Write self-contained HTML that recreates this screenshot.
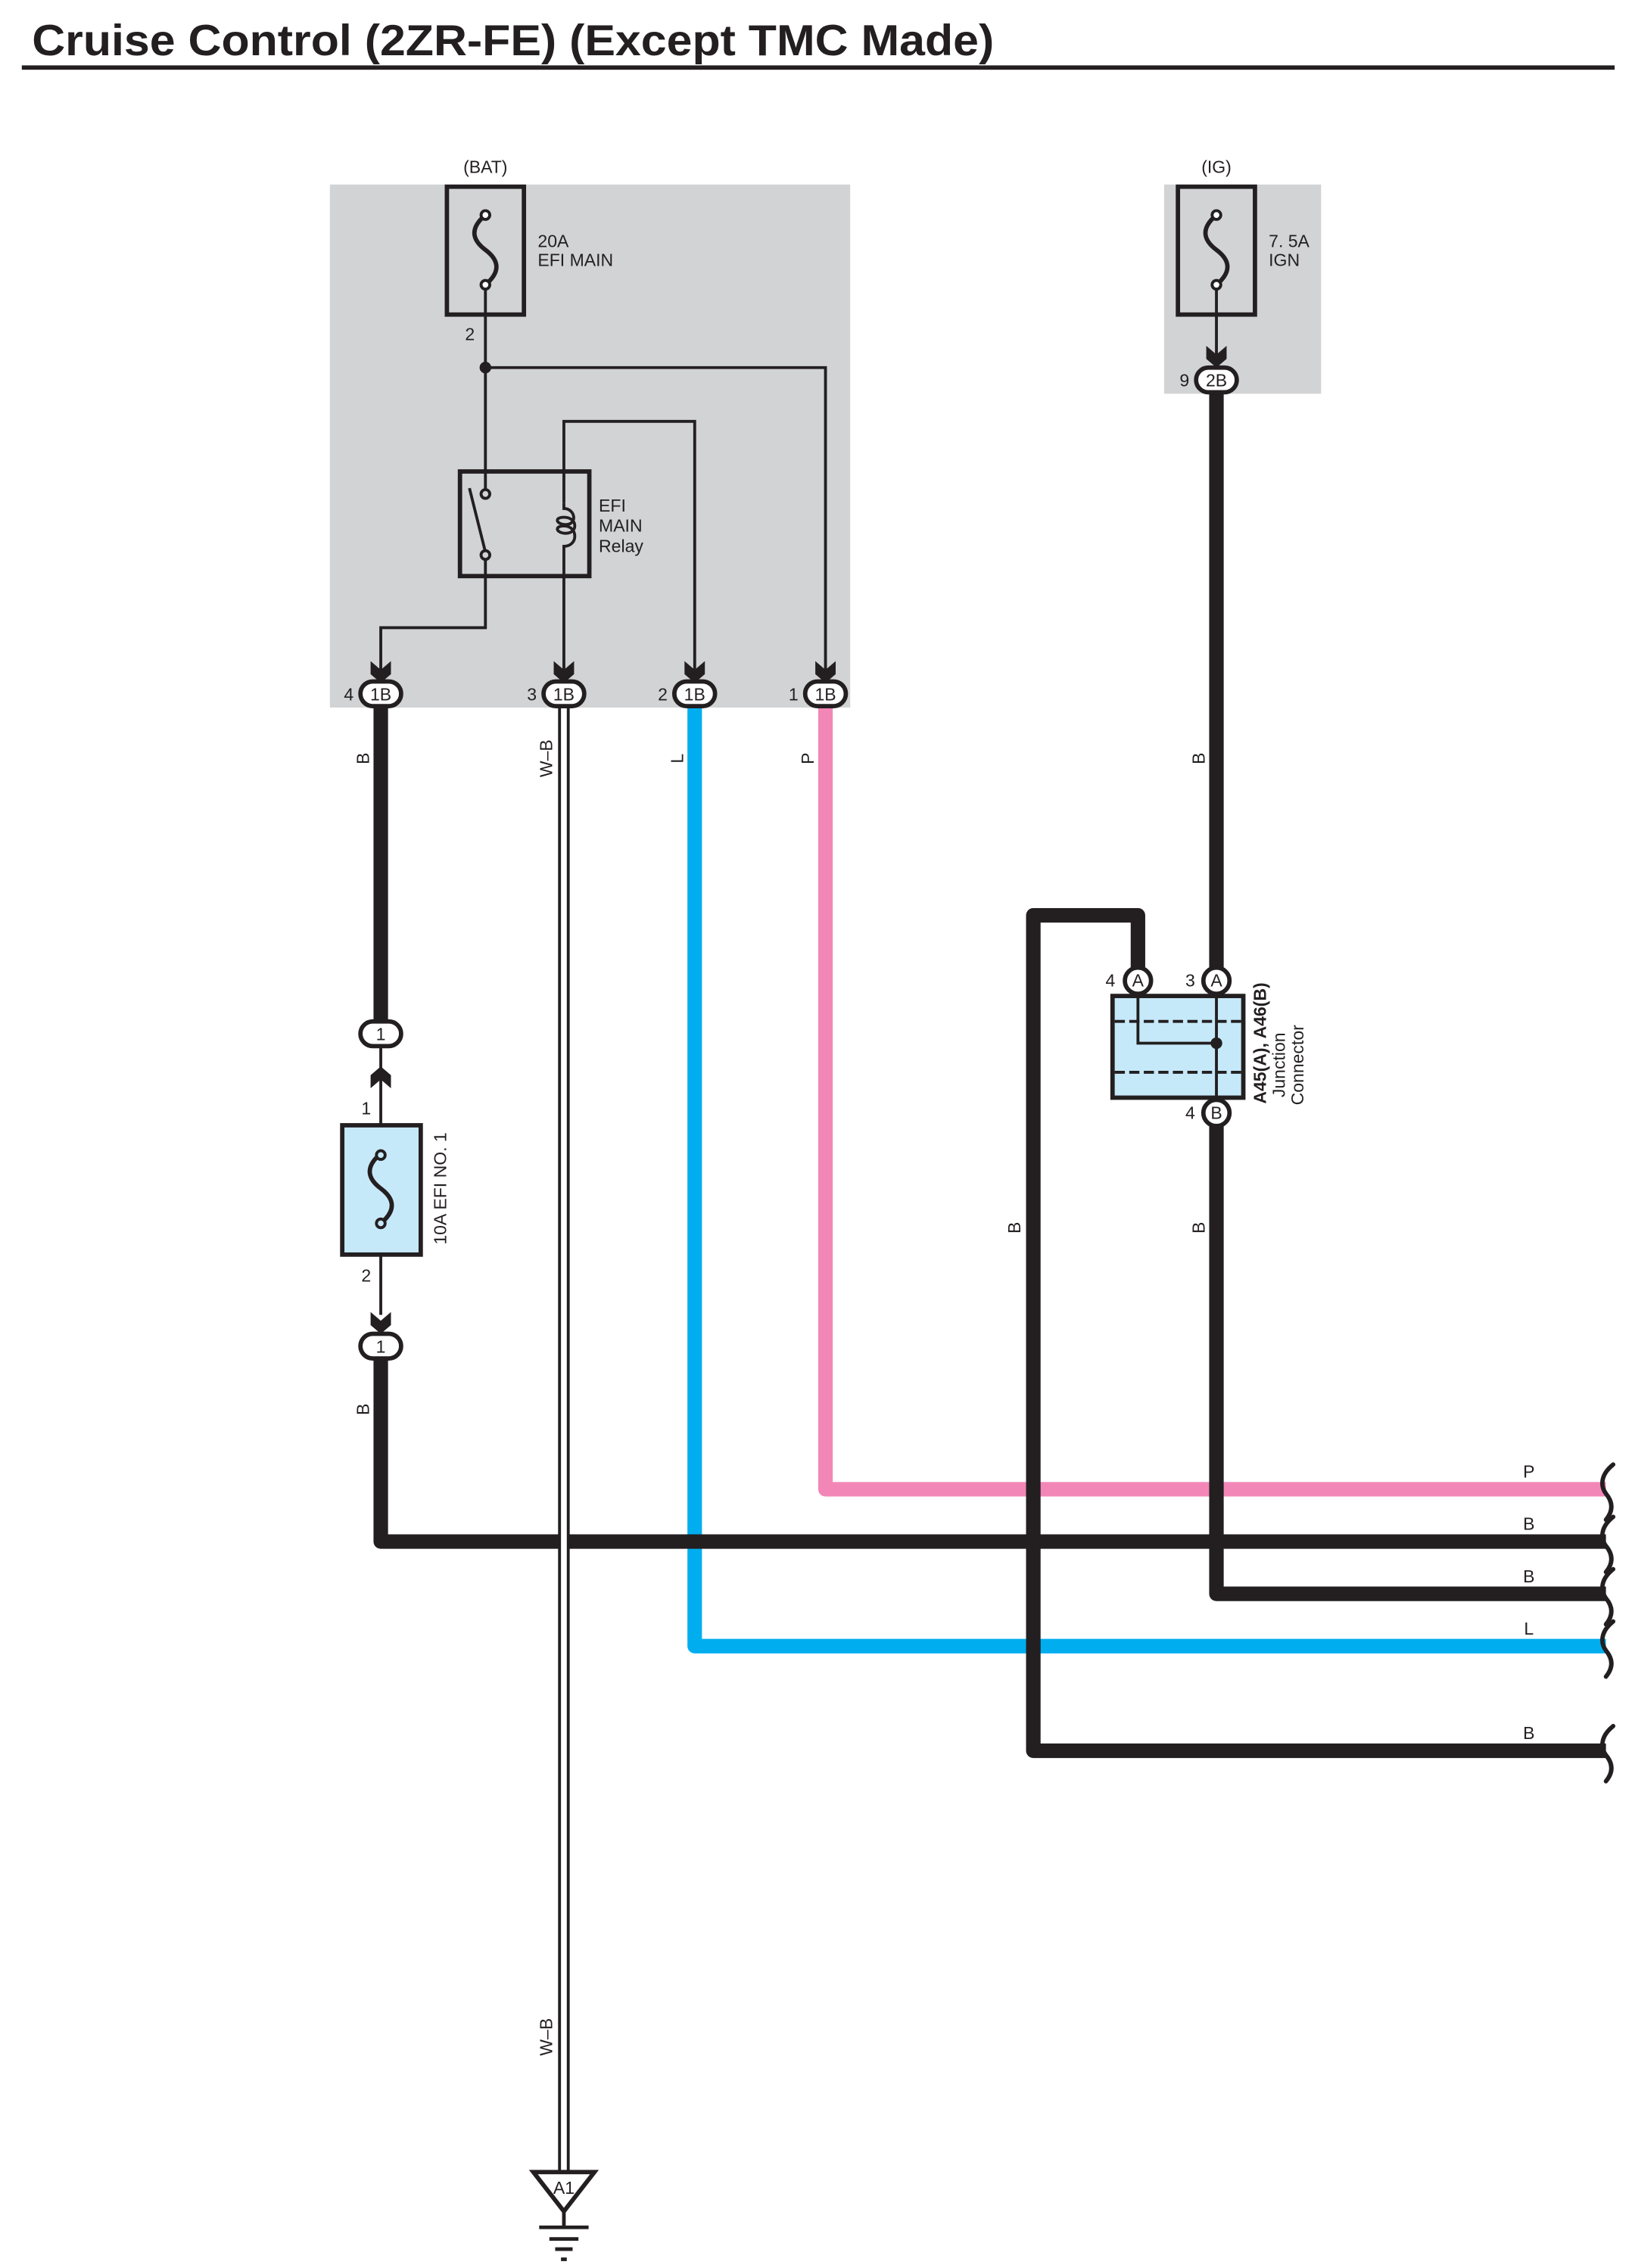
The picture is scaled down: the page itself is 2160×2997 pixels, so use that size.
<!DOCTYPE html>
<html><head><meta charset="utf-8"><style>html,body{margin:0;padding:0;background:#fff}svg{display:block}text{font-family:"Liberation Sans",sans-serif;fill:#231f20}</style></head><body>
<svg width="2160" height="2997" viewBox="0 0 1125 1561" preserveAspectRatio="none" xmlns="http://www.w3.org/2000/svg">
<defs>
<path id="ad" d="M-7,-15 L0,-9 L7,-15 L7,-6 L0,0 L-7,-6 Z" fill="#231f20"/>
<path id="fz" d="M0,-24 C-12,-14 -8,-6 0,0 C8,6 12,14 0,24" fill="none" stroke="#231f20" stroke-width="3"/>
</defs>
<text x="22" y="38" font-size="30" font-weight="bold" textLength="662" lengthAdjust="spacingAndGlyphs">Cruise Control (2ZR-FE) (Except TMC Made)</text>
<rect x="15" y="45" width="1096" height="3" fill="#231f20"/>
<rect x="227" y="127" width="358" height="360" fill="#d1d3d4"/>
<rect x="801" y="127" width="108" height="144" fill="#d1d3d4"/>
<g fill="none" stroke-linejoin="round" stroke-linecap="butt">
<path d="M568,487 V1025 H1105" stroke="#f287b7" stroke-width="10"/>
<path d="M478,487 V1133 H1105" stroke="#00aeef" stroke-width="10"/>
<path d="M262,487 V704" stroke="#231f20" stroke-width="10"/>
<path d="M262,934 V1061 H1105" stroke="#231f20" stroke-width="10"/>
<path d="M837,271 V667" stroke="#231f20" stroke-width="10"/>
<path d="M837,774 V1097 H1105" stroke="#231f20" stroke-width="10"/>
<path d="M783,667 V630 H711 V1205 H1105" stroke="#231f20" stroke-width="10"/>
<path d="M388,487 V1496" stroke="#231f20" stroke-width="8"/>
<path d="M388,487 V1496" stroke="#fff" stroke-width="4"/>
</g>
<g fill="none" stroke="#231f20" stroke-width="3" stroke-linecap="round">
<path d="M1110,1008 C1100,1016 1102,1024 1105,1028 C1110,1034 1110,1040 1105,1046"/>
<path d="M1110,1044 C1100,1052 1102,1060 1105,1064 C1110,1070 1110,1076 1105,1082"/>
<path d="M1110,1080 C1100,1088 1102,1096 1105,1100 C1110,1106 1110,1112 1105,1118"/>
<path d="M1110,1116 C1100,1124 1102,1132 1105,1136 C1110,1142 1110,1148 1105,1154"/>
<path d="M1110,1188 C1100,1196 1102,1204 1105,1208 C1110,1214 1110,1220 1105,1226"/>
</g>
<text x="334" y="119" font-size="12" text-anchor="middle">(BAT)</text>
<rect x="307.5" y="128.5" width="53" height="88" fill="none" stroke="#231f20" stroke-width="3"/>
<use href="#fz" x="334" y="172"/>
<circle cx="334" cy="148" r="3" fill="#fff" stroke="#231f20" stroke-width="2"/>
<circle cx="334" cy="196" r="3" fill="#fff" stroke="#231f20" stroke-width="2"/>
<text x="370" y="170" font-size="12">20A</text>
<text x="370" y="183" font-size="12">EFI MAIN</text>
<text x="320" y="234" font-size="12">2</text>
<g fill="none" stroke="#231f20" stroke-width="2">
<path d="M334,199 V340"/>
<path d="M334,253 H568 V464"/>
<path d="M388,346 V290 H478 V464"/>
<path d="M388,346 V350 C396,350 398,362 388,361 C382,360 382,356 388,356 C398,356 398,368 388,367 C382,366 382,362 388,362 C398,362 398,376 388,376 V464"/>
<path d="M334,385 V432 H262 V464"/>
<path d="M323,336 L334,380"/>
</g>
<circle cx="334" cy="253" r="4" fill="#231f20"/>
<rect x="316.5" y="324.5" width="89" height="72" fill="none" stroke="#231f20" stroke-width="3"/>
<circle cx="334" cy="340" r="3" fill="#d1d3d4" stroke="#231f20" stroke-width="2"/>
<circle cx="334" cy="382" r="3" fill="#d1d3d4" stroke="#231f20" stroke-width="2"/>
<text x="412" y="352" font-size="12">EFI</text>
<text x="412" y="366" font-size="12">MAIN</text>
<text x="412" y="380" font-size="12">Relay</text>
<use href="#ad" x="262" y="470"/><use href="#ad" x="388" y="470"/><use href="#ad" x="478" y="470"/><use href="#ad" x="568" y="470"/>
<g stroke="#231f20" stroke-width="3" fill="#fff">
<rect x="248" y="469" width="28" height="17" rx="8.5"/>
<rect x="374" y="469" width="28" height="17" rx="8.5"/>
<rect x="464" y="469" width="28" height="17" rx="8.5"/>
<rect x="554" y="469" width="28" height="17" rx="8.5"/>
</g>
<g font-size="12" text-anchor="middle">
<text x="262" y="482">1B</text><text x="388" y="482">1B</text><text x="478" y="482">1B</text><text x="568" y="482">1B</text>
<text x="240" y="482">4</text><text x="366" y="482">3</text><text x="456" y="482">2</text><text x="546" y="482">1</text>
</g>
<g font-size="12" text-anchor="middle">
<text transform="translate(254,522) rotate(-90)">B</text>
<text transform="translate(380,522) rotate(-90)">W–B</text>
<text transform="translate(470,522) rotate(-90)">L</text>
<text transform="translate(560,522) rotate(-90)">P</text>
<text transform="translate(254,970) rotate(-90)">B</text>
<text transform="translate(380,1402) rotate(-90)">W–B</text>
<text transform="translate(829,522) rotate(-90)">B</text>
<text transform="translate(702,845) rotate(-90)">B</text>
<text transform="translate(829,845) rotate(-90)">B</text>
<text x="1052" y="1017">P</text><text x="1052" y="1053">B</text><text x="1052" y="1089">B</text><text x="1052" y="1125">L</text><text x="1052" y="1197">B</text>
</g>
<path d="M262,720 V905" stroke="#231f20" stroke-width="2"/>
<use href="#ad" x="262" y="720" transform="rotate(180 262 727)"/>
<use href="#ad" x="262" y="918"/>
<rect x="235.5" y="774.5" width="54" height="89" fill="#c6e9fa" stroke="#231f20" stroke-width="3"/>
<use href="#fz" x="262" y="818"/>
<circle cx="262" cy="795" r="3" fill="#c6e9fa" stroke="#231f20" stroke-width="2"/>
<circle cx="262" cy="842" r="3" fill="#c6e9fa" stroke="#231f20" stroke-width="2"/>
<rect x="248" y="703" width="28" height="17" rx="8.5" fill="#fff" stroke="#231f20" stroke-width="3"/>
<rect x="248" y="918" width="28" height="17" rx="8.5" fill="#fff" stroke="#231f20" stroke-width="3"/>
<g font-size="12" text-anchor="middle">
<text x="262" y="716">1</text><text x="262" y="931">1</text>
<text x="252" y="767">1</text><text x="252" y="882">2</text>
<text transform="translate(307,818) rotate(-90)">10A EFI NO. 1</text>
</g>
<text x="837" y="119" font-size="12" text-anchor="middle">(IG)</text>
<rect x="810.5" y="128.5" width="53" height="88" fill="none" stroke="#231f20" stroke-width="3"/>
<use href="#fz" x="837" y="172"/>
<circle cx="837" cy="148" r="3" fill="#fff" stroke="#231f20" stroke-width="2"/>
<circle cx="837" cy="196" r="3" fill="#fff" stroke="#231f20" stroke-width="2"/>
<path d="M837,199 V246" stroke="#231f20" stroke-width="2"/>
<use href="#ad" x="837" y="253"/>
<rect x="823" y="253" width="28" height="17" rx="8.5" fill="#fff" stroke="#231f20" stroke-width="3"/>
<text x="837" y="266" font-size="12" text-anchor="middle">2B</text>
<text x="815" y="266" font-size="12" text-anchor="middle">9</text>
<text x="873" y="170" font-size="12">7. 5A</text>
<text x="873" y="183" font-size="12">IGN</text>
<rect x="765.5" y="685.5" width="90" height="70" fill="#c6e9fa" stroke="#231f20" stroke-width="3"/>
<g stroke="#231f20" stroke-width="2" fill="none">
<path d="M767,703 H854 M767,738 H854" stroke-dasharray="7,3"/>
<path d="M783,685 V718 H837 M837,685 V756"/>
</g>
<circle cx="837" cy="718" r="4" fill="#231f20"/>
<g stroke="#231f20" stroke-width="3" fill="#fff">
<circle cx="783" cy="675" r="9"/><circle cx="837" cy="675" r="9"/><circle cx="837" cy="766" r="9"/>
</g>
<g font-size="12" text-anchor="middle">
<text x="783" y="679">A</text><text x="837" y="679">A</text><text x="837" y="770">B</text>
<text x="764" y="679">4</text><text x="819" y="679">3</text><text x="819" y="770">4</text>
<text transform="translate(871,718) rotate(-90)" font-weight="bold">A45(A), A46(B)</text>
<text transform="translate(884,733) rotate(-90)">Junction</text>
<text transform="translate(897,733) rotate(-90)">Connector</text>
</g>
<path d="M367,1495 H409 L388,1522 Z" fill="#fff" stroke="#231f20" stroke-width="3" stroke-linejoin="miter"/>
<text x="388" y="1510" font-size="12" text-anchor="middle">A1</text>
<g stroke="#231f20" stroke-width="2.5">
<path d="M388,1522 V1533"/>
<path d="M371,1533 H405 M378,1541 H398 M382,1548 H394 M386,1555 H390"/>
</g>
</svg>
</body></html>
